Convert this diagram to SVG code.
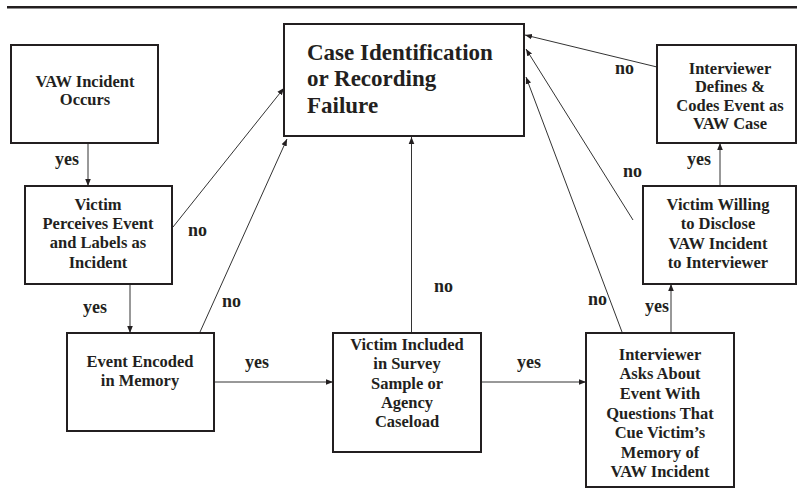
<svg xmlns="http://www.w3.org/2000/svg" width="797" height="496" viewBox="0 0 797 496">
<style>
.box{fill:#fff;stroke:#231f20;stroke-width:2}
.t{font-family:'Liberation Serif','Times New Roman',serif;font-weight:bold;font-size:16.5px;fill:#231f20;text-anchor:middle}
.big{font-family:'Liberation Serif','Times New Roman',serif;font-weight:bold;font-size:23px;fill:#231f20}
.lbl{font-family:'Liberation Serif','Times New Roman',serif;font-weight:bold;font-size:18px;fill:#231f20}
.c{stroke:#333;stroke-width:1;fill:none;marker-end:url(#ah)}
</style>
<defs>
<marker id="ah" viewBox="0 0 10 10" refX="10" refY="5" markerWidth="7" markerHeight="7" markerUnits="userSpaceOnUse" orient="auto">
<path d="M0,1 L10,5 L0,9 z" fill="#231f20"/>
</marker>
</defs>
<rect x="7" y="6" width="790" height="2.5" fill="#231f20"/>

<g id="connectors">
<line class="c" x1="88" y1="143" x2="88" y2="186"/>
<line class="c" x1="130" y1="284" x2="130" y2="333"/>
<line class="c" x1="173" y1="227" x2="284" y2="88"/>
<line class="c" x1="200" y1="332" x2="287" y2="139"/>
<line class="c" x1="214" y1="382" x2="333" y2="382"/>
<line class="c" x1="411.5" y1="333" x2="411.5" y2="137"/>
<line class="c" x1="481" y1="382" x2="586" y2="382"/>
<line class="c" x1="622" y1="332" x2="526" y2="77"/>
<line class="c" x1="671" y1="333" x2="671" y2="284"/>
<line class="c" x1="633" y1="220" x2="526" y2="49"/>
<line class="c" x1="720" y1="186" x2="720" y2="143"/>
<line class="c" x1="657" y1="67" x2="525" y2="35"/>
<text class="lbl" x="55" y="165">yes</text>
<text class="lbl" x="83" y="313">yes</text>
<text class="lbl" x="188" y="236">no</text>
<text class="lbl" x="222" y="307">no</text>
<text class="lbl" x="245" y="368">yes</text>
<text class="lbl" x="434" y="292">no</text>
<text class="lbl" x="517" y="368">yes</text>
<text class="lbl" x="588" y="305">no</text>
<text class="lbl" x="645" y="312">yes</text>
<text class="lbl" x="623" y="177">no</text>
<text class="lbl" x="687" y="165">yes</text>
<text class="lbl" x="615" y="74">no</text>
</g>

<g id="n-occurs">
<rect class="box" x="11" y="45" width="147" height="98"/>
<text class="t" x="85" y="87">VAW Incident</text>
<text class="t" x="85" y="105">Occurs</text>
</g>

<g id="n-perceives">
<rect class="box" x="25" y="186" width="147" height="98"/>
<text class="t" x="98" y="210">Victim</text>
<text class="t" x="98" y="229">Perceives Event</text>
<text class="t" x="98" y="248">and Labels as</text>
<text class="t" x="98" y="268">Incident</text>
</g>

<g id="n-failure">
<rect class="box" x="284" y="24" width="240" height="112"/>
<text class="big" x="307" y="60">Case Identification</text>
<text class="big" x="307" y="86">or Recording</text>
<text class="big" x="307" y="113">Failure</text>
</g>

<g id="n-encoded">
<rect class="box" x="67" y="333" width="147" height="98"/>
<text class="t" x="140" y="367">Event Encoded</text>
<text class="t" x="140" y="386">in Memory</text>
</g>

<g id="n-included">
<rect class="box" x="333" y="333" width="148" height="119"/>
<text class="t" x="407" y="350">Victim Included</text>
<text class="t" x="407" y="369">in Survey</text>
<text class="t" x="407" y="389">Sample or</text>
<text class="t" x="407" y="408">Agency</text>
<text class="t" x="407" y="427">Caseload</text>
</g>

<g id="n-asks">
<rect class="box" x="586" y="333" width="148" height="154"/>
<text class="t" x="660" y="360">Interviewer</text>
<text class="t" x="660" y="379">Asks About</text>
<text class="t" x="660" y="399">Event With</text>
<text class="t" x="660" y="419">Questions That</text>
<text class="t" x="660" y="438">Cue Victim’s</text>
<text class="t" x="660" y="458">Memory of</text>
<text class="t" x="660" y="477">VAW Incident</text>
</g>

<g id="n-willing">
<rect class="box" x="643" y="186" width="153" height="98"/>
<text class="t" x="718" y="210">Victim Willing</text>
<text class="t" x="718" y="229">to Disclose</text>
<text class="t" x="718" y="249">VAW Incident</text>
<text class="t" x="718" y="268">to Interviewer</text>
</g>

<g id="n-defines">
<rect class="box" x="657" y="45" width="139" height="98"/>
<text class="t" x="730" y="74">Interviewer</text>
<text class="t" x="730" y="92">Defines &amp;</text>
<text class="t" x="730" y="111">Codes Event as</text>
<text class="t" x="730" y="129">VAW Case</text>
</g>
</svg>
